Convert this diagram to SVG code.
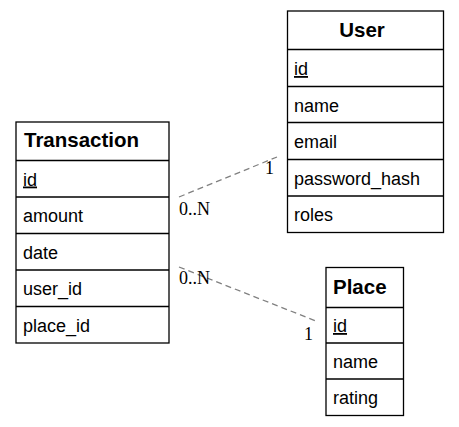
<svg xmlns="http://www.w3.org/2000/svg" width="459" height="427" viewBox="0 0 459 427">
<style>
.box{fill:#fff;stroke:#000;stroke-width:1.3}
.sep{stroke:#000;stroke-width:1.3}
.hd{font-family:"Liberation Sans",Arial,sans-serif;font-weight:bold;font-size:20.5px;fill:#000}
.fd{font-family:"Liberation Sans",Arial,sans-serif;font-size:18px;fill:#000}
.pk{text-decoration:underline}
.conn{fill:none;stroke:#808080;stroke-width:1.3;stroke-dasharray:6,4}
.lbl{font-family:"Liberation Serif","Times New Roman",serif;font-size:18px;fill:#000}
</style>
<g id="connectors">
<line class="conn" x1="179" y1="197" x2="277" y2="157"/>
<line class="conn" x1="179" y1="267" x2="316" y2="321"/>
<text class="lbl" x="265" y="174">1</text>
<text class="lbl" x="179" y="215">0..N</text>
<text class="lbl" x="179" y="284">0..N</text>
<text class="lbl" x="304" y="340">1</text>
</g>
<g id="User">
<rect class="box" x="287.5" y="11" width="156" height="221.5"/>
<line class="sep" x1="287.5" y1="49.5" x2="443.5" y2="49.5"/>
<line class="sep" x1="287.5" y1="86.5" x2="443.5" y2="86.5"/>
<line class="sep" x1="287.5" y1="122.5" x2="443.5" y2="122.5"/>
<line class="sep" x1="287.5" y1="159.5" x2="443.5" y2="159.5"/>
<line class="sep" x1="287.5" y1="196" x2="443.5" y2="196"/>
<text class="hd" x="362" y="37" text-anchor="middle">User</text>
<text class="fd pk" x="294" y="75">id</text>
<text class="fd" x="294" y="111.5">name</text>
<text class="fd" x="294" y="148">email</text>
<text class="fd" x="294" y="184.5">password_hash</text>
<text class="fd" x="294" y="221">roles</text>
</g>
<g id="Transaction">
<rect class="box" x="16" y="122" width="153" height="221"/>
<line class="sep" x1="16" y1="160.5" x2="169" y2="160.5"/>
<line class="sep" x1="16" y1="197" x2="169" y2="197"/>
<line class="sep" x1="16" y1="233.5" x2="169" y2="233.5"/>
<line class="sep" x1="16" y1="270" x2="169" y2="270"/>
<line class="sep" x1="16" y1="306.5" x2="169" y2="306.5"/>
<text class="hd" x="24" y="147">Transaction</text>
<text class="fd pk" x="23" y="185.5">id</text>
<text class="fd" x="23" y="222">amount</text>
<text class="fd" x="23" y="258.5">date</text>
<text class="fd" x="23" y="295">user_id</text>
<text class="fd" x="23" y="331.5">place_id</text>
</g>
<g id="Place">
<rect class="box" x="326" y="267.5" width="77.5" height="148"/>
<line class="sep" x1="326" y1="307.5" x2="403.5" y2="307.5"/>
<line class="sep" x1="326" y1="343" x2="403.5" y2="343"/>
<line class="sep" x1="326" y1="379" x2="403.5" y2="379"/>
<text class="hd" x="333" y="293.5">Place</text>
<text class="fd pk" x="333" y="332">id</text>
<text class="fd" x="333" y="368">name</text>
<text class="fd" x="333" y="404">rating</text>
</g>
</svg>
